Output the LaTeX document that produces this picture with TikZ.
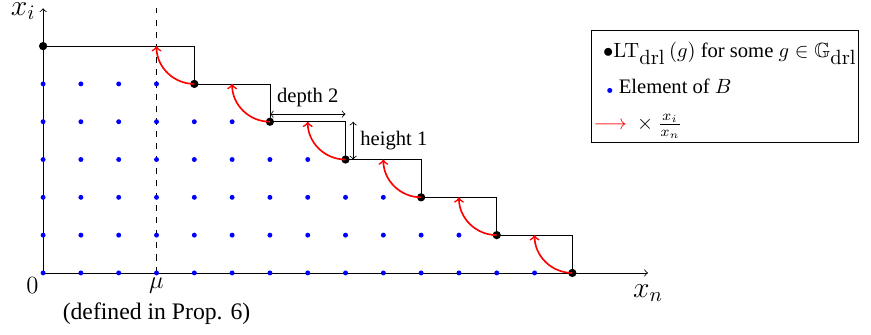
\documentclass[tikz,border=0pt]{standalone}
\usepackage{amssymb}
\usepackage[no-math]{fontspec}
\setmainfont{Liberation Serif}

\begin{document}
\begin{tikzpicture}[x=0.645cm,y=0.645cm,
    gdot/.style={circle,fill=black,inner sep=0pt,minimum size=4pt},
    bdot/.style={circle,fill=blue,inner sep=0pt,minimum size=2.4pt},
    redarc/.style={red,thick,->},
    axlabel/.style={font=\fontsize{11.5}{14}\selectfont}]
  \useasboundingbox (-1.14,-1.64) rectangle (21.9,7.22);

  % axes
  \coordinate (O) at (0,0);
  \coordinate (xend) at (16,0);
  \coordinate (yend) at (0,7);
  \draw[->] (O) -- (xend) node[anchor=base,inner sep=0pt,yshift=-11.7pt] (xn) {\Large$x_n$};
  \draw[->] (O) -- (yend) node[anchor=base east,inner sep=0pt,xshift=-3.5pt,yshift=-3.4pt] (xi) {\Large$x_i$};
  \node[axlabel,below left,inner sep=2pt] (zero) at (O) {$0$};

  % mu
  \coordinate (mubase) at (3,0);
  \coordinate (mutop) at (3,7);
  \draw[dashed] (mubase) -- (mutop);
  \node[axlabel,below,inner sep=2pt] (mu) at (mubase) {$\mu$};
  \node[axlabel,below=-1pt] (prop) at (mu.south) {(defined in Prop. 6)};

  % elements of B
  \foreach \y/\n in {0/13,1/11,2/9,3/7,4/5,5/3}
    \foreach \x in {0,...,\n}
      \node[bdot] (b-\x-\y) at (\x,\y) {};

  % leading terms
  \foreach \x/\y [count=\i from 0] in {0/6,4/5,6/4,8/3,10/2,12/1,14/0}
    \node[gdot] (G\i) at (\x,\y) {};
  \draw (G0.center) -| (G1.center) -| (G2.center) -| (G3.center)
        -| (G4.center) -| (G5.center) -| (G6.center);

  % multiplication by x_i/x_n
  \foreach \i in {1,...,6}
    \draw[redarc] (G\i.center) arc[start angle=270,end angle=180,radius=1];

  % depth and height
  \coordinate (d1) at (6,4.2);
  \coordinate (d2) at (8,4.2);
  \draw[<->] (d1) -- node[above] (depth) {depth 2} (d2);
  \coordinate (h1) at (8.2,4);
  \coordinate (h2) at (8.2,3);
  \draw[<->] (h1) -- node[right] (height) {height 1} (h2);

  % legend
  \node[draw,anchor=north west,inner sep=1pt] (legend) at (14.5,6.43) {%
    \renewcommand{\arraystretch}{1.45}%
    \begin{tabular}{@{}l@{}}
      \hspace*{4.5pt}$\bullet\mathrm{LT}_{\textstyle\mathrm{drl}}\left(g\right)$ for some $g\in\mathbb{G}_{\textstyle\mathrm{drl}}$\\
      \hspace*{6pt}{\color{blue}$\scriptscriptstyle\bullet$} Element of $B$\\
      ${\color{red}\longrightarrow}\;\times\frac{x_i}{x_n}$
    \end{tabular}};
\end{tikzpicture}
\end{document}
